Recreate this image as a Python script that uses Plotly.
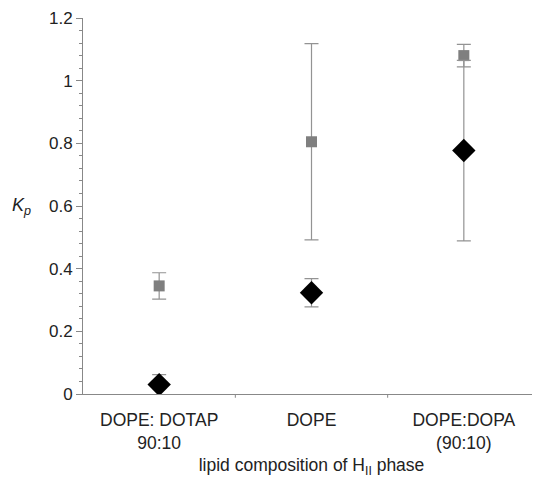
import plotly.graph_objects as go

categories = ["DOPE: DOTAP<br>90:10", "DOPE", "DOPE:DOPA<br>(90:10)"]
gray_values = [0.345, 0.805, 1.08]
gray_errors = [0.042, 0.313, 0.036]
black_values = [0.03, 0.323, 0.777]
black_errors = [0.032, 0.045, 0.288]
y_ticks = [0, 0.2, 0.4, 0.6, 0.8, 1.0, 1.2]
y_ticktext = ["0", "0.2", "0.4", "0.6", "0.8", "1", "1.2"]

x_idx = list(range(len(categories)))

fig = go.Figure()
fig.add_trace(go.Scatter(
    x=x_idx, y=gray_values, mode="markers",
    marker=dict(symbol="square", size=11, color="#7f7f7f"),
    error_y=dict(type="data", array=gray_errors, color="#939393", thickness=1.2, width=7),
    showlegend=False))
fig.add_trace(go.Scatter(
    x=x_idx, y=black_values, mode="markers",
    marker=dict(symbol="diamond", size=18, color="#000000"),
    error_y=dict(type="data", array=black_errors, color="#939393", thickness=1.2, width=7),
    showlegend=False))

fig.update_layout(
    width=532, height=470,
    margin=dict(l=75, r=0, t=10, b=84),
    paper_bgcolor="white", plot_bgcolor="white",
    font=dict(family="Liberation Sans, Arial, sans-serif", size=16, color="#222"),
    xaxis=dict(
        range=[-0.5, 2.5], tickmode="array", tickvals=x_idx, ticktext=categories,
        showline=True, linecolor="#888", linewidth=1, showgrid=False, zeroline=False,
        ticks="outside", ticklen=10, tickcolor="rgba(0,0,0,0)",
        tickfont=dict(size=17.5), automargin=False,
        title=dict(text="lipid composition of H<sub>II</sub> phase", font=dict(size=17.5), standoff=7),
    ),
    yaxis=dict(
        range=[0, 1.2], tickmode="array", tickvals=y_ticks, ticktext=y_ticktext,
        showline=True, linecolor="#888", linewidth=1, showgrid=False, zeroline=False,
        ticks="outside", ticklen=6, tickcolor="#888", tickfont=dict(size=17),
        automargin=False,
        minor=dict(dtick=0.04, tick0=0, ticks="outside", ticklen=3, tickcolor="#888"),
    ),
    shapes=[
        dict(type="line", xref="x", yref="paper", x0=b, x1=b, y0=0, y1=-0.01,
             line=dict(color="#888", width=1))
        for b in [0.5, 1.5]
    ],
    annotations=[
        dict(text="<i>K<sub>p</sub></i>", xref="paper", yref="paper", x=-0.135, y=0.5,
             xanchor="center", yanchor="middle", showarrow=False, font=dict(size=18))
    ],
)

fig.write_html("out.html")
